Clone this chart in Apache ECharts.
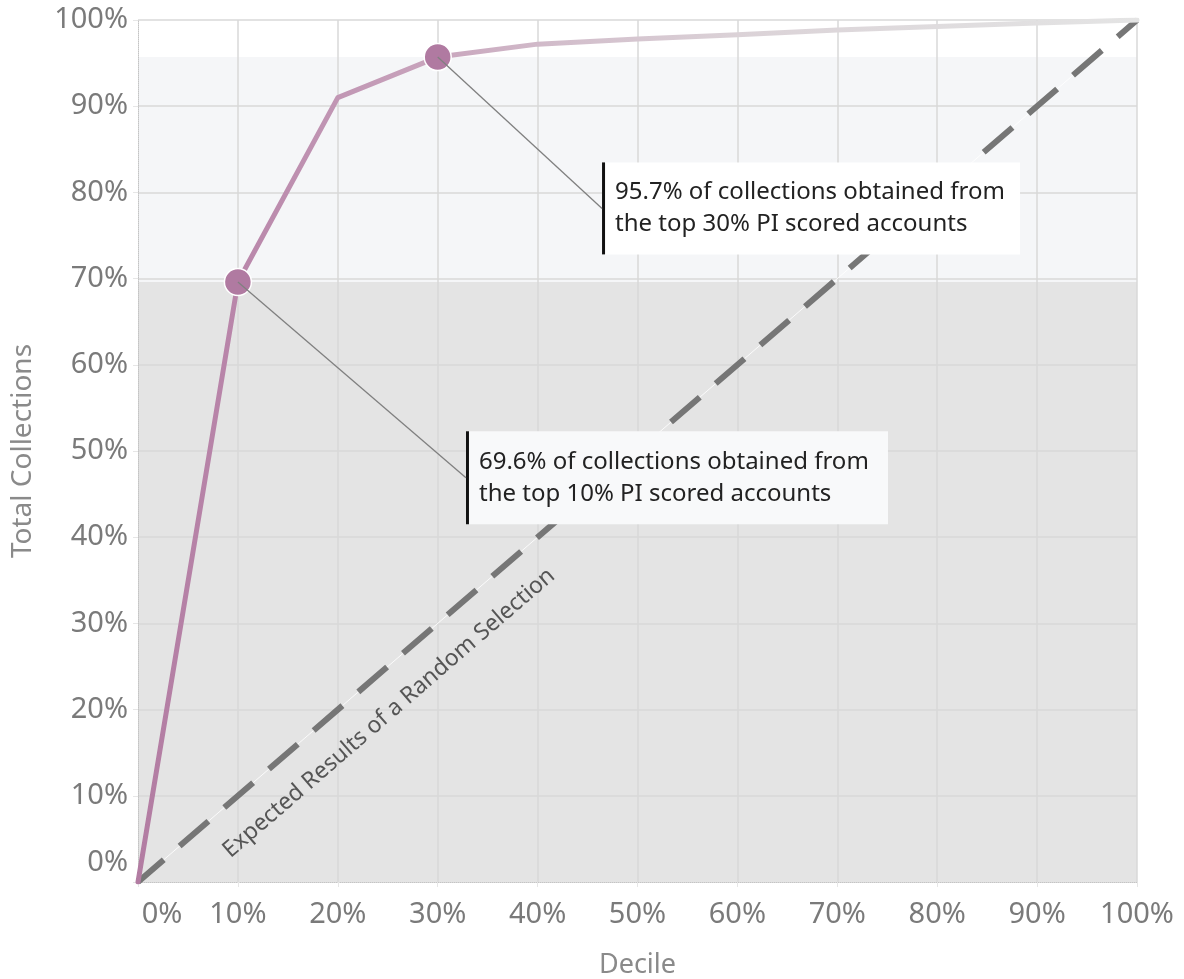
<!DOCTYPE html>
<html><head><meta charset="utf-8">
<script src="https://cdn.jsdelivr.net/npm/echarts@6/dist/echarts.min.js"></script>
<style>html,body{margin:0;padding:0;background:#fff}#c{width:1184px;height:979px}</style>
</head><body><div id="c"></div>
<script>
// ---- data ----
const deciles = [0, 10, 20, 30, 40, 50, 60, 70, 80, 90, 100];
const collections = [0, 69.6, 91.0, 95.7, 97.2, 97.8, 98.3, 98.85, 99.25, 99.65, 100];
const randomX = [0, 100];
const randomY = [0, 100];
const highlightDeciles = [10, 30];
const highlightValues = [69.6, 95.7];
const bandEdges = [0, 69.6, 95.7];
const tickLabels = ['0%', '10%', '20%', '30%', '40%', '50%', '60%', '70%', '80%', '90%', '100%'];
const annotationTexts = [
  '69.6% of collections obtained from\nthe top 10% PI scored accounts',
  '95.7% of collections obtained from\nthe top 30% PI scored accounts'
];
const randomLabel = 'Expected Results of a Random Selection';

// ---- layout / style ----
const FONT = '"Noto Sans", sans-serif';
const annLayout = [
  { x: 32.83, top: 52.29, w: 422, h: 93, bg: '#f8f9fa' },
  { x: 46.45, top: 83.48, w: 418, h: 92, bg: '#ffffff' }
];

const chart = echarts.init(document.getElementById('c'), null, { renderer: 'canvas' });

function labelFmt() {
  return function (v) {
    const s = tickLabels[Math.round(v / 10)];
    return v === 0 ? '{z|' + s + '}' : s;
  };
}

chart.setOption({
  animation: false,
  backgroundColor: '#ffffff',
  grid: { left: 138, right: 47, top: 20, bottom: 97, containLabel: false, outerBoundsMode: 'none' },
  xAxis: {
    type: 'value', min: 0, max: 100, interval: 10, z: 1,
    name: 'Decile', nameLocation: 'middle', nameGap: 70,
    nameTextStyle: { fontFamily: FONT, fontSize: 27, color: '#8a8a8a' },
    axisLine: { show: true, lineStyle: { color: '#c4c4c4', type: 'dotted', width: 1 } },
    axisTick: { show: true, length: 5, lineStyle: { color: '#e6e6e6' } },
    splitLine: { show: true, showMinLine: false, lineStyle: { color: '#d9d9d9', width: 1.5 } },
    axisLabel: {
      formatter: labelFmt(), margin: 18, fontFamily: FONT, fontSize: 29, color: '#7a7a7a',
      rich: { z: { fontFamily: FONT, fontSize: 29, color: '#7a7a7a', padding: [0, 0, 0, 48] } }
    }
  },
  yAxis: {
    type: 'value', min: 0, max: 100, interval: 10, z: 1,
    name: 'Total Collections', nameLocation: 'middle', nameGap: 101,
    nameTextStyle: { fontFamily: FONT, fontSize: 28, color: '#8a8a8a' },
    axisLine: { show: true, lineStyle: { color: '#c4c4c4', type: 'dotted', width: 1 } },
    axisTick: { show: true, length: 5, lineStyle: { color: '#e6e6e6' } },
    splitLine: { show: true, showMinLine: false, lineStyle: { color: '#d9d9d9', width: 1.5 } },
    axisLabel: {
      formatter: labelFmt(), margin: 10, fontFamily: FONT, fontSize: 29, color: '#7a7a7a',
      rich: { z: { fontFamily: FONT, fontSize: 29, color: '#7a7a7a', padding: [0, 0, 38, 0] } }
    }
  },
  series: [
    {
      type: 'line', data: [], silent: true, z: 2,
      markArea: {
        silent: true, z: 0,
        data: [
          [{ coord: [0, bandEdges[0]], itemStyle: { color: '#e4e4e4' } }, { coord: [100, bandEdges[1]] }],
          [{ coord: [0, bandEdges[1]], itemStyle: { color: '#f5f6f8' } }, { coord: [100, bandEdges[2]] }]
        ]
      }
    },
    {
      type: 'line', silent: true, z: 3, symbol: 'none',
      data: randomX.map((x, i) => [x, randomY[i]]),
      lineStyle: { color: 'rgba(255,255,255,0.85)', width: 1 }
    },
    {
      type: 'line', silent: true, z: 4, symbol: 'none',
      data: randomX.map((x, i) => [x, randomY[i]]),
      lineStyle: { color: '#767676', width: 6, type: [38, 21], dashOffset: 4, cap: 'butt' }
    },
    {
      type: 'line', silent: true, z: 5, symbol: 'none',
      data: deciles.map((x, i) => [x, collections[i]]),
      lineStyle: {
        width: 5, cap: 'round', join: 'round',
        color: {
          type: 'linear', x: 0, y: 0, x2: 1, y2: 0,
          colorStops: [
            { offset: 0, color: '#b27ca2' },
            { offset: 0.1, color: '#b986aa' },
            { offset: 0.2, color: '#c196b4' },
            { offset: 0.3, color: '#c9a5bd' },
            { offset: 0.42, color: '#d2bdcb' },
            { offset: 0.6, color: '#dbd2d7' },
            { offset: 0.8, color: '#dfdcde' },
            { offset: 1, color: '#e4e4e4' }
          ]
        }
      }
    },
    {
      type: 'scatter', silent: true, z: 6, symbolSize: 27,
      data: highlightDeciles.map((x, i) => [x, highlightValues[i]]),
      itemStyle: { color: '#b07aa1', borderColor: '#ffffff', borderWidth: 1.5, opacity: 1 }
    }
  ]
});

function drawGraphics() {
  const els = [];
  const p0 = chart.convertToPixel({ gridIndex: 0 }, [0, 0]);
  const p1 = chart.convertToPixel({ gridIndex: 0 }, [100, 100]);
  const ang = Math.atan2(p0[1] - p1[1], p1[0] - p0[0]);
  const lp = chart.convertToPixel({ gridIndex: 0 }, [25.13, 19.6]);
  els.push({
    type: 'text', x: lp[0], y: lp[1], rotation: ang, z: 10,
    style: { text: randomLabel, font: '23px ' + FONT, fill: '#555555', align: 'center', verticalAlign: 'middle' }
  });
  annLayout.forEach((a, i) => {
    const tl = chart.convertToPixel({ gridIndex: 0 }, [a.x, a.top]);
    const mk = chart.convertToPixel({ gridIndex: 0 }, [highlightDeciles[i], highlightValues[i]]);
    const midY = tl[1] + a.h / 2;
    els.push({ type: 'rect', z: 20, shape: { x: tl[0], y: tl[1], width: a.w, height: a.h }, style: { fill: a.bg } });
    els.push({ type: 'rect', z: 21, shape: { x: tl[0], y: tl[1], width: 3, height: a.h }, style: { fill: '#111111' } });
    els.push({ type: 'line', z: 22, shape: { x1: mk[0], y1: mk[1], x2: tl[0], y2: midY }, style: { stroke: '#808080', lineWidth: 1.3 } });
    els.push({
      type: 'text', z: 23, x: tl[0] + 13, y: midY,
      style: { text: annotationTexts[i], font: '24px ' + FONT, fill: '#222222', lineHeight: 32, align: 'left', verticalAlign: 'middle' }
    });
  });
  chart.setOption({ graphic: { elements: els } });
}
drawGraphics();
</script>
</body></html>
